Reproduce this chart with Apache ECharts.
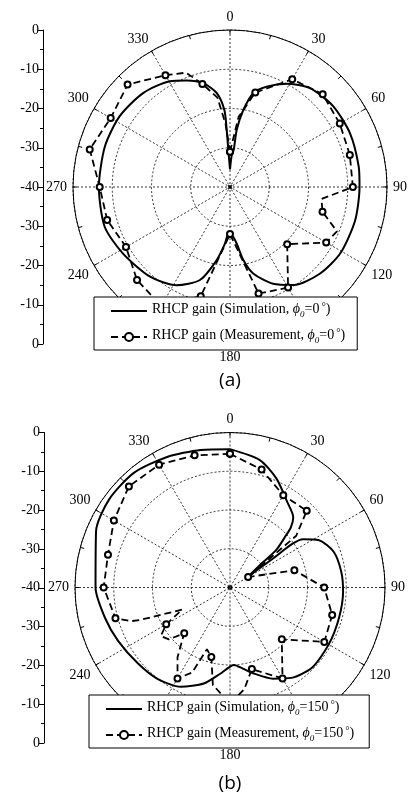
<!DOCTYPE html>
<html>
<head>
<meta charset="utf-8">
<script src="https://cdn.jsdelivr.net/npm/echarts@6/dist/echarts.min.js"></script>
<style>
  html, body { margin: 0; padding: 0; background: #fff; }
  #chart { width: 409px; height: 796px; }
</style>
</head>
<body>
<div id="chart"></div>
<script>
// ---- data (angle in degrees, gain in dB) ----
const angleTicks = [0, 30, 60, 90, 120, 150, 180, 210, 240, 270, 300, 330];
const dbTicks = [-40, -30, -20, -10, 0];

// (a) phi0 = 0
const simA_deg = [0, 3, 5.7, 6.7, 9.8, 14, 20, 28.8, 39, 52, 66, 81, 90, 105, 121, 134, 147, 156, 165, 169.6, 173.3, 177, 180,
  183, 185.1, 190.4, 197.9, 208.6, 221.7, 238.1, 252.4, 270, 287.9, 302.6, 317.2, 330.3, 337.8, 345.6, 351.9, 355.8, 356.7, 357.4, 360];
const simA_db = [-35.5, -32, -30.5, -25.4, -20.1, -15.3, -12.8, -10.0, -7.6, -6.6, -6.5, -6.8, -7.0, -7.0, -7.2, -8.2, -10.2, -13.0, -17.2, -21.0, -25.5, -27.5, -27.6,
  -27.5, -25.5, -21.0, -15.1, -11.5, -9.4, -7.9, -6.5, -6.6, -6.5, -6.6, -7.4, -9.0, -10.7, -12.7, -15.8, -20.3, -25.4, -30.6, -35.5];

const measA_deg = [0, 7, 15, 30, 45, 60, 75, 90, 97.5, 105, 112.5, 120, 135, 150, 165, 180, 195, 210, 225, 240, 255, 270, 285, 300, 315, 330, 339, 345, 352, 356, 360];
const measA_db = [-31.0, -22, -15.1, -8.3, -6.6, -7.7, -8.4, -8.7, -16.5, -15.6, -10.5, -11.7, -19.4, -10.4, -11.9, -28.0, -11.2, -5.0, -6.5, -9.4, -7.6, -6.8, -3.0, -4.9, -3.1, -7.1, -8.8, -12.8, -17, -24, -31.0];

// (b) phi0 = 150
const simB_deg = [0, 13, 23, 34, 42, 45.3, 47.1, 51, 52.5, 59, 56, 55, 56.5, 62, 71, 82, 92, 105.6, 119.8, 134, 145.8, 154.8, 165, 171, 177,
  186.5, 195.3, 206.4, 218.5, 230.4, 244.5, 256.4, 270, 292.8, 306, 320, 334, 348, 360];
const simB_db = [-4.3, -6.2, -9.4, -13.5, -15.6, -17.9, -20.3, -24.7, -29.2, -34.5, -26.6, -20.3, -17.4, -14.0, -11.7, -11.0, -10.8, -10.8, -10.6, -10.4, -11.8, -14.0, -17.1, -18.8, -20.0,
  -17.6, -14.3, -11.4, -9.9, -9.2, -8.0, -6.8, -5.3, -2.5, -1.4, -1.4, -2.6, -3.7, -4.3];

const measB_deg = [0, 15, 30, 45, 52, 60, 75, 90, 105, 120, 135, 150, 165, 172, 180, 190, 195, 200.5, 204, 210, 217, 225, 229.7, 235, 240,
  245.2, 250.2, 251.2, 255, 270, 285, 300, 315, 330, 345, 360];
const measB_db = [-5.5, -8.5, -12.5, -12.0, -18.3, -34.6, -22.8, -15.7, -12.7, -11.9, -21.1, -12.9, -18.2, -13.5, -10.0, -14.5, -21.4, -23.0, -16.0, -12.9, -17.5, -23.3, -19.3, -18.2, -21.0,
  -26.4, -15.1, -13.1, -9.4, -7.4, -7.4, -5.4, -3.1, -3.4, -4.7, -5.5];

const FONT = 'Liberation Serif';

function simData(deg, db) {
  return deg.map((d, i) => [db[i], d]);
}
function measData(deg, db) {
  // markers only every 15 degrees
  return deg.map((d, i) => {
    const item = { value: [db[i], d] };
    if (d % 15 !== 0) item.symbol = 'none';
    return item;
  });
}

function angleAxis(idx) {
  return {
    polarIndex: idx,
    type: 'value',
    min: 0,
    max: 360,
    interval: 30,
    startAngle: 90,
    clockwise: true,
    axisLine: { show: true, lineStyle: { color: '#000', width: 1 } },
    axisTick: { show: true, inside: true, length: 4, lineStyle: { color: '#000' } },
    minorTick: { show: true, splitNumber: 2, length: 4, lineStyle: { color: '#000' } },
    axisLabel: {
      margin: 6,
      color: '#000',
      fontFamily: FONT,
      fontSize: 14,
      formatter: v => (v === 360 ? '' : String(v))
    },
    splitLine: { show: true, lineStyle: { color: '#000', width: 0.8, type: [2, 2] } }
  };
}
function radiusAxis(idx) {
  return {
    polarIndex: idx,
    type: 'value',
    min: dbTicks[0],
    max: dbTicks[dbTicks.length - 1],
    interval: 10,
    axisLine: { show: false },
    axisTick: { show: false },
    axisLabel: { show: false },
    splitLine: { show: true, lineStyle: { color: '#000', width: 0.8, type: [2, 2] } }
  };
}
function sideAxis(idx) {
  return {
    gridIndex: idx,
    type: 'value',
    position: 'left',
    min: 0,
    max: 80,
    interval: 10,
    axisLine: { show: true, lineStyle: { color: '#000', width: 1 } },
    axisTick: { show: true, length: 5, lineStyle: { color: '#000' } },
    minorTick: { show: true, splitNumber: 2, length: 3, lineStyle: { color: '#000' } },
    splitLine: { show: false },
    axisLabel: {
      color: '#000',
      fontFamily: FONT,
      fontSize: 14,
      margin: 4,
      formatter: v => {
        const lab = v <= 40 ? -v : v - 80;
        return lab === 0 ? '0' : '-' + Math.abs(lab);
      }
    }
  };
}

const legendRich = {
  t: { fontFamily: FONT, fontSize: 14, color: '#000', verticalAlign: 'top', lineHeight: 18 },
  phi: { fontFamily: FONT, fontSize: 14, fontStyle: 'italic', color: '#000', verticalAlign: 'top', lineHeight: 18 },
  sub: { fontFamily: FONT, fontSize: 9, fontStyle: 'italic', color: '#000', verticalAlign: 'top', padding: [8, 0, 0, 0] },
  deg: { fontFamily: FONT, fontSize: 11, color: '#000', verticalAlign: 'top', padding: [0, 0, 0, 2] }
};
const legendText = {
  simA: '{t|RHCP gain (Simulation, }{phi|ϕ}{sub|0}{t|=0}{deg|°}{t|)}',
  measA: '{t|RHCP gain (Measurement, }{phi|ϕ}{sub|0}{t|=0}{deg|°}{t|)}',
  simB: '{t|RHCP gain (Simulation, }{phi|ϕ}{sub|0}{t|=150}{deg|°}{t|)}',
  measB: '{t|RHCP gain (Measurement, }{phi|ϕ}{sub|0}{t|=150}{deg|°}{t|)}'
};
function legend(names, left, top, padding) {
  return {
    data: [
      { name: names[0], itemStyle: { opacity: 0 } },
      { name: names[1] }
    ],
    orient: 'vertical',
    left: left,
    top: top,
    padding: padding,
    itemGap: 9,
    itemWidth: 36,
    itemHeight: 10,
    backgroundColor: '#fff',
    borderColor: '#000',
    borderWidth: 1,
    borderRadius: 0,
    formatter: name => legendText[name],
    textStyle: { fontFamily: FONT, rich: legendRich }
  };
}

function simSeries(name, idx, deg, db) {
  return {
    name: name,
    type: 'line',
    coordinateSystem: 'polar',
    polarIndex: idx,
    data: simData(deg, db),
    symbol: 'none',
    smooth: 0.25,
    lineStyle: { color: '#000', width: 2 },
    itemStyle: { color: '#000' },
    z: 3
  };
}
function measSeries(name, idx, deg, db) {
  return {
    name: name,
    type: 'line',
    coordinateSystem: 'polar',
    polarIndex: idx,
    data: measData(deg, db),
    symbol: 'emptyCircle',
    symbolSize: 6,
    showAllSymbol: true,
    lineStyle: { color: '#000', width: 1.8, type: [7, 4] },
    itemStyle: { color: '#000', borderWidth: 1 },
    z: 3
  };
}
function centerDot(idx) {
  return {
    type: 'scatter',
    coordinateSystem: 'polar',
    polarIndex: idx,
    data: [[dbTicks[0], 0]],
    symbol: 'rect',
    symbolSize: 4,
    itemStyle: { color: '#000' },
    silent: true
  };
}

const chart = echarts.init(document.getElementById('chart'));
chart.setOption({
  animation: false,
  backgroundColor: '#fff',
  textStyle: { fontFamily: FONT },
  polar: [
    { center: [230, 187], radius: 157 },
    { center: [230, 587.5], radius: 155 }
  ],
  angleAxis: [angleAxis(0), angleAxis(1)],
  radiusAxis: [radiusAxis(0), radiusAxis(1)],
  grid: [
    { left: 43, top: 30, width: 10, height: 314 },
    { left: 44, top: 432.5, width: 10, height: 310.5 }
  ],
  xAxis: [
    { gridIndex: 0, type: 'value', show: false },
    { gridIndex: 1, type: 'value', show: false }
  ],
  yAxis: [sideAxis(0), sideAxis(1)],
  legend: [
    legend(['simA', 'measA'], 94, 297, [5, 12, 5, 16]),
    legend(['simB', 'measB'], 89, 695, [5, 15, 5, 16])
  ],
  series: [
    simSeries('simA', 0, simA_deg, simA_db),
    measSeries('measA', 0, measA_deg, measA_db),
    simSeries('simB', 1, simB_deg, simB_db),
    measSeries('measB', 1, measB_deg, measB_db),
    centerDot(0),
    centerDot(1)
  ],
  graphic: [
    { type: 'text', x: 230, y: 381, style: { text: '(a)', font: '19px "Open Sans"', fill: '#000', align: 'center', verticalAlign: 'middle' } },
    { type: 'text', x: 230, y: 784, style: { text: '(b)', font: '19px "Open Sans"', fill: '#000', align: 'center', verticalAlign: 'middle' } }
  ]
});
</script>
</body>
</html>
